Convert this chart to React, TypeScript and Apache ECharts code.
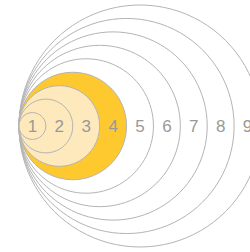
import React, { useEffect, useRef } from "react";
import * as echarts from "echarts";

const labels = ["9", "8", "7", "6", "5", "4", "3", "2", "1"];
const radii = [9, 8, 7, 6, 5, 4, 3, 2, 1];
const fills = ["none", "none", "none", "none", "none", "#fec92f", "#fde9bc", "#fde9bc", "#fde9bc"];

export default function App() {
  const ref = useRef<HTMLDivElement>(null);
  useEffect(() => {
    const chart = echarts.init(ref.current!, null, { renderer: "svg" });
    const data = radii.map((r, i) => ({ value: [r, 0], name: labels[i], fill: fills[i] }));
    chart.setOption({
      animation: false,
      grid: { left: 19, top: 5, right: 0, bottom: 5 },
      xAxis: { type: "value", min: 0, max: 231 / (242 / 18), show: false },
      yAxis: { type: "value", min: -9, max: 9, show: false },
      series: [
        {
          type: "custom",
          coordinateSystem: "cartesian2d",
          data,
          clip: false,
          renderItem: (params: any, api: any) => {
            const r = api.value(0);
            const c = api.coord([r, 0]);
            const rp = api.size([r, 0])[0];
            const lp = api.coord([2 * r - 1, 0]);
            const item = data[params.dataIndex];
            return {
              type: "group",
              children: [
                {
                  type: "circle",
                  shape: { cx: c[0], cy: c[1], r: rp },
                  style: { fill: item.fill, stroke: "#b4b4b4", lineWidth: 1 },
                },
                {
                  type: "text",
                  x: lp[0],
                  y: lp[1],
                  style: {
                    text: item.name,
                    fill: "#999999",
                    font: "17px 'Liberation Sans'",
                    align: "center",
                    verticalAlign: "middle",
                  },
                },
              ],
            };
          },
        },
      ],
    });
    return () => chart.dispose();
  }, []);
  return <div ref={ref} style={{ width: 250, height: 252, position: "absolute", left: 0, top: 0 }} />;
}
